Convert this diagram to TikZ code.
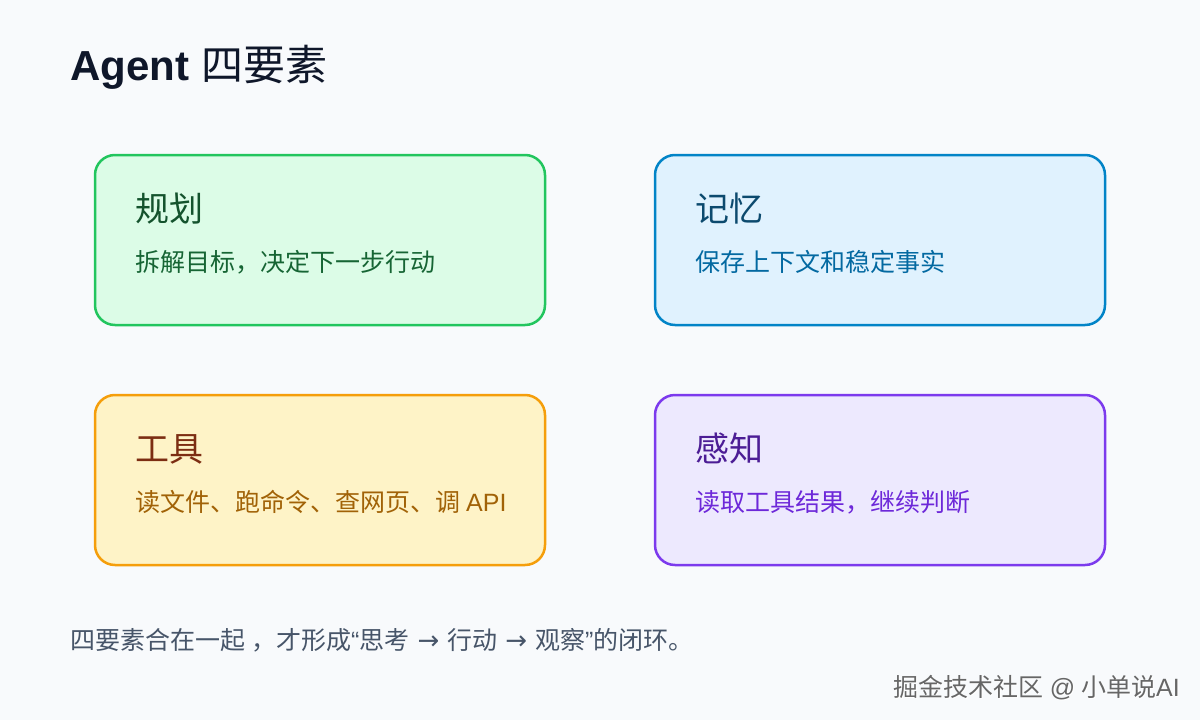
\documentclass[tikz,border=0pt]{standalone}
\usepackage{fontspec}
\setmainfont{Liberation Sans}
\newfontfamily\cjk{Noto Sans CJK SC}
\newfontfamily\lat{Liberation Sans}
\newfontfamily\sym{DejaVu Sans}
\definecolor{bg}{HTML}{F8FAFC}
\definecolor{ink}{HTML}{0F172A}
\definecolor{gline}{HTML}{22C55E}\definecolor{gfill}{HTML}{DCFCE7}
\definecolor{gtitle}{HTML}{14532D}\definecolor{gtext}{HTML}{166534}
\definecolor{bline}{HTML}{0284C7}\definecolor{bfill}{HTML}{E0F2FE}
\definecolor{btitle}{HTML}{0C4A6E}\definecolor{btext}{HTML}{0369A1}
\definecolor{yline}{HTML}{F59E0B}\definecolor{yfill}{HTML}{FEF3C7}
\definecolor{ytitle}{HTML}{7C2D12}\definecolor{ytext}{HTML}{A16207}
\definecolor{pline}{HTML}{7C3AED}\definecolor{pfill}{HTML}{EDE9FE}
\definecolor{ptitle}{HTML}{4C1D95}\definecolor{ptext}{HTML}{6D28D9}
\definecolor{note}{HTML}{475569}
\tikzset{
  card/.style={rounded corners=20pt, line width=2.5pt},
  ctitle/.style={anchor=base west, inner sep=0pt, font=\cjk\fontsize{34}{38}\selectfont},
  ctext/.style={anchor=base west, inner sep=0pt, font=\cjk\fontsize{25}{29}\selectfont},
}
\newcommand{\arr}{\hspace{8pt}{\sym\fontsize{26}{30}\selectfont →}\hspace{8pt}}
\begin{document}
\begin{tikzpicture}[x=1pt,y=-1pt]
\fill[bg] (0,0) rectangle (1200,720);
\useasboundingbox (0,0) rectangle (1200,720);
\node[anchor=base west, inner sep=0pt, text=ink] (title) at (70,80)
  {\fontsize{42}{46}\selectfont\bfseries Agent\hspace{12pt}\cjk\mdseries 四要素};
% cards
\draw[card, draw=gline, fill=gfill] (95,155) rectangle (545,325);
\node[ctitle, text=gtitle] (plan) at (135,221) {规划};
\node[ctext, text=gtext] (plantext) at (135,271) {拆解目标，决定下一步行动};
\draw[card, draw=bline, fill=bfill] (655,155) rectangle (1105,325);
\node[ctitle, text=btitle] (mem) at (695,221) {记忆};
\node[ctext, text=btext] (memtext) at (695,271) {保存上下文和稳定事实};
\draw[card, draw=yline, fill=yfill] (95,395) rectangle (545,565);
\node[ctitle, text=ytitle] (tool) at (135,461) {工具};
\node[ctext, text=ytext] (tooltext) at (135,511) {读文件、跑命令、查网页、调\hspace{6pt}{\lat API}};
\draw[card, draw=pline, fill=pfill] (655,395) rectangle (1105,565);
\node[ctitle, text=ptitle] (perc) at (695,461) {感知};
\node[ctext, text=ptext] (perctext) at (695,511) {读取工具结果，继续判断};
\node[ctext, text=note] (summary) at (70,649) {四要素合在一起\hspace{6pt}，才形成{\lat “}思考\arr 行动\arr 观察{\lat ”}的闭环。};
\node[anchor=base east, inner sep=0pt, text=white, font=\cjk\fontsize{25}{29}\selectfont] at (1181,697) {掘金技术社区\hspace{6pt}{\lat @}\hspace{6pt}小单说{\lat AI}};
\node[anchor=base east, inner sep=0pt, text=black!60, font=\cjk\fontsize{25}{29}\selectfont] (mark) at (1180,696) {掘金技术社区\hspace{6pt}{\lat @}\hspace{6pt}小单说{\lat AI}};
\end{tikzpicture}
\end{document}
